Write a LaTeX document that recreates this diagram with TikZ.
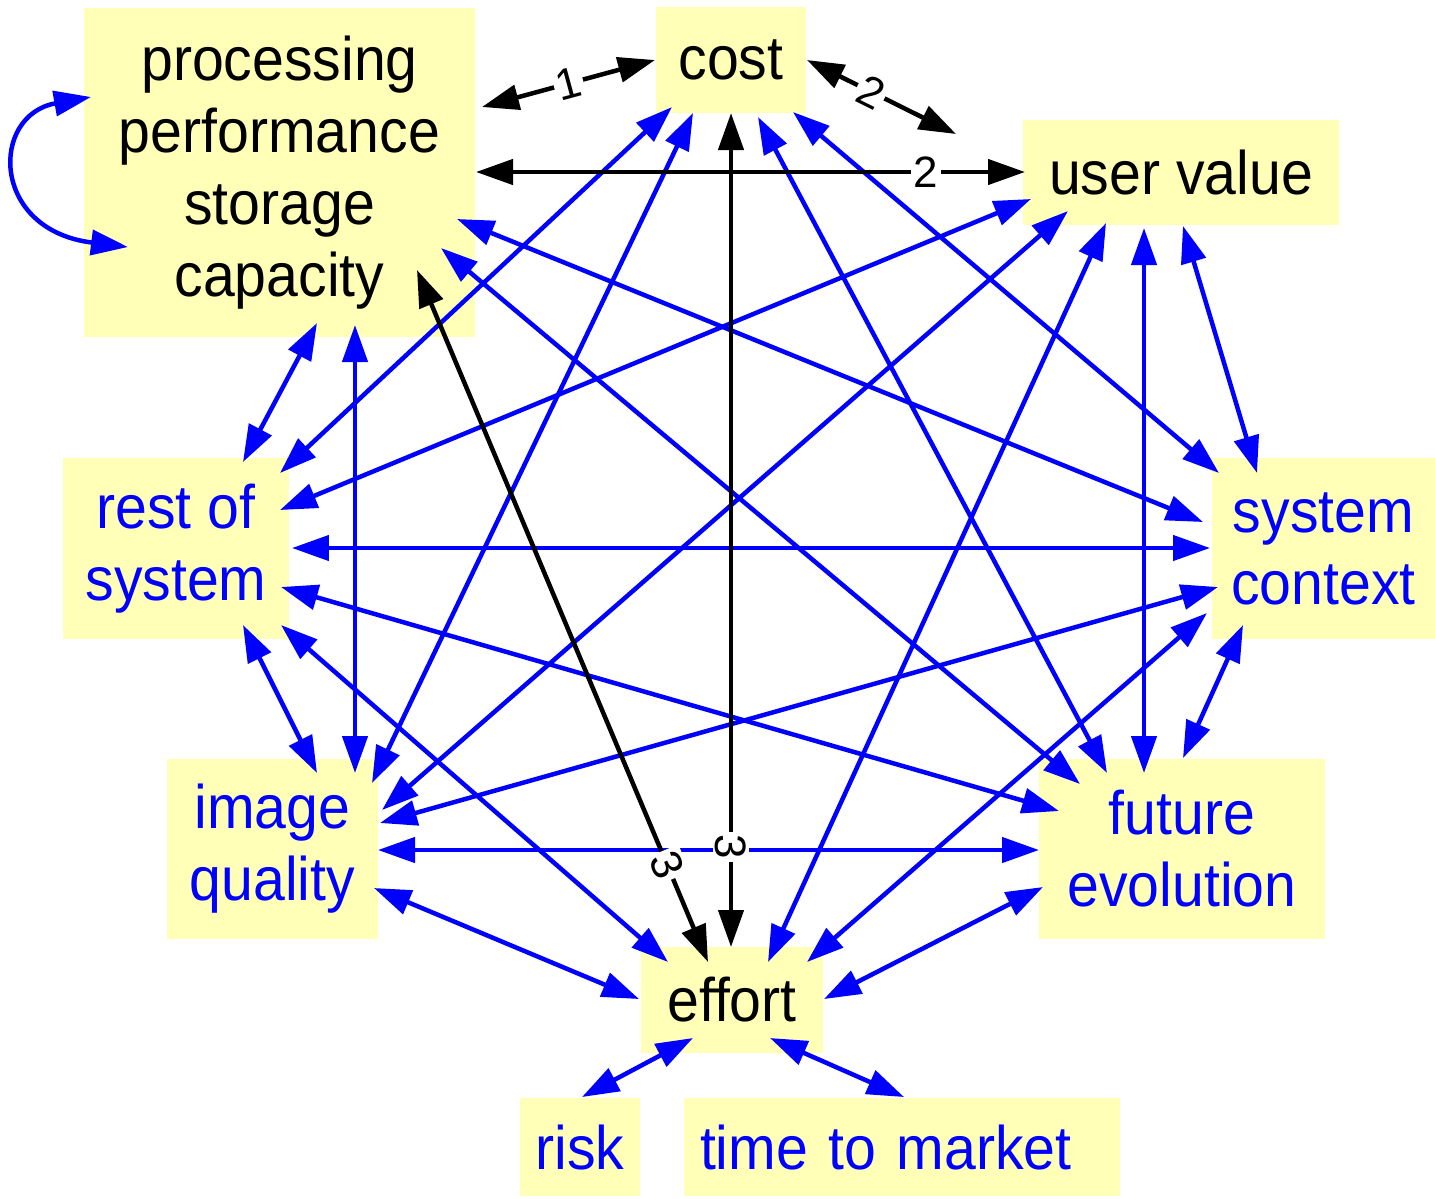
\documentclass[tikz,border=0pt]{standalone}
\usepackage{fontspec}
\setmainfont{Liberation Sans}
\newfontfamily\hepchu[FakeStretch=0.93]{Liberation Sans}
\usetikzlibrary{arrows.meta,calc}
\definecolor{nen}{RGB}{255,255,183}
\begin{document}
\begin{tikzpicture}[x=0.02cm, y=-0.02cm, line join=round,
	hop/.style={fill=nen, inner sep=0pt, align=center, font=\hepchu\fontsize{35}{41}\selectfont},
	mui/.style={line width=0.09cm, {Triangle[length=0.74cm,width=0.5cm]}-{Triangle[length=0.74cm,width=0.5cm]}},
	xanh/.style={mui, blue},
	den/.style={mui, black},
	so/.style={sloped, fill=white, inner sep=1.5pt, font=\fontsize{25}{25}\selectfont}]
	\useasboundingbox (0,0) rectangle (1435,1198);
	% cac hop
	\node[hop, minimum width=7.82cm, minimum height=6.58cm] (P) at (279.5,172.5) {processing\\performance\\storage\\capacity};
	\node[hop, minimum width=3cm, minimum height=2.12cm] (C) at (731,60) {cost};
	\node[hop, minimum width=6.32cm, minimum height=2.1cm] (U) at (1181,172.5) {user value};
	\node[hop, text=blue, minimum width=4.52cm, minimum height=3.62cm] (R) at (176,548.5) {rest of\\system};
	\node[hop, text=blue, minimum width=4.46cm, minimum height=3.62cm] (S) at (1323.5,548.5) {system\\context};
	\node[hop, text=blue, minimum width=4.22cm, minimum height=3.6cm] (I) at (272.5,849) {image\\quality};
	\node[hop, text=blue, minimum width=5.72cm, minimum height=3.6cm] (F) at (1182,849) {future\\evolution};
	\node[hop, minimum width=3.64cm, minimum height=2.12cm] (E) at (732,1000) {effort};
	\node[hop, text=blue, minimum width=2.4cm, minimum height=1.96cm] (K) at (580,1147) {risk};
	\node[hop, text=blue, text width=8.08cm, align=left, inner xsep=0.32cm, minimum height=1.96cm] (T) at (902,1147) {time to market};
	% vong lap
	\draw[xanh] ($(P)+(-151.5,74.5)$) .. controls +(-138,-17) and +(-101,18) .. ($(P)+(-188.5,-75.5)$);
	% cac mui ten xanh
	\draw[xanh] ($(P)+(37.5,150.5)$) -- ($(R)+(67,-86.5)$);
	\draw[xanh] ($(P)+(75.5,152.5)$) -- ($(I)+(82.5,-76)$);
	\draw[xanh] ($(P)+(177.5,46.5)$) -- ($(S)+(-120.5,-26.5)$);
	\draw[xanh] ($(P)+(161.5,75.5)$) -- ($(F)+(-102,-65)$);
	\draw[xanh] ($(C)+(-59,47)$) -- ($(R)+(104,-75.5)$);
	\draw[xanh] ($(C)+(-38,53)$) -- ($(I)+(99.5,-66)$);
	\draw[xanh] ($(C)+(27,57)$) -- ($(F)+(-75,-76)$);
	\draw[xanh] ($(C)+(62,52)$) -- ($(S)+(-104.5,-75.5)$);
	\draw[xanh] ($(U)+(-150,26.5)$) -- ($(R)+(104,-38.5)$);
	\draw[xanh] ($(U)+(-113,38.5)$) -- ($(I)+(109.5,-39)$);
	\draw[xanh] ($(U)+(-75,50.5)$) -- ($(E)+(36,-38)$);
	\draw[xanh] ($(U)+(-37,55.5)$) -- ($(F)+(-38,-76)$);
	\draw[xanh] ($(U)+(2,53.5)$) -- ($(S)+(-66.5,-75.5)$);
	\draw[xanh] ($(R)+(116,-0.5)$) -- ($(S)+(-113.5,-0.5)$);
	\draw[xanh] ($(R)+(105,38.5)$) -- ($(F)+(-123,-38)$);
	\draw[xanh] ($(R)+(67,76.5)$) -- ($(I)+(44.5,-76)$);
	\draw[xanh] ($(R)+(105,76.5)$) -- ($(E)+(-64,-38)$);
	\draw[xanh] ($(S)+(-105.5,38.5)$) -- ($(I)+(107.5,-26)$);
	\draw[xanh] ($(S)+(-116.5,64.5)$) -- ($(E)+(75,-38)$);
	\draw[xanh] ($(S)+(-80.5,76.5)$) -- ($(F)+(1,-91)$);
	\draw[xanh] ($(I)+(105.5,1)$) -- ($(F)+(-143,1)$);
	\draw[xanh] ($(I)+(101.5,39)$) -- ($(E)+(-93,-1)$);
	\draw[xanh] ($(F)+(-139,38)$) -- ($(E)+(92,-1)$);
	\draw[xanh] ($(E)+(-39,38)$) -- ($(K)+(2,-50)$);
	\draw[xanh] ($(E)+(38,38)$) -- ($(T)+(2,-50)$);
	% cac mui ten den
	\draw[den] ($(P)+(202.5,-65.5)$) -- node[so]{1} ($(C)+(-76,0)$);
	\draw[den] ($(C)+(76,0)$) -- node[so, pos=.43]{2} ($(U)+(-225,-38.5)$);
	\draw[den] ($(P)+(196.5,-0.5)$) -- node[so, pos=.82]{2} ($(U)+(-156,-0.5)$);
	\draw[den] ($(C)+(0,53)$) -- node[so, pos=.88]{3} ($(E)+(-1,-53)$);
	\draw[den] ($(P)+(137.5,97.5)$) -- node[so, pos=.86]{3} ($(E)+(-24,-38)$);
\end{tikzpicture}
\end{document}
